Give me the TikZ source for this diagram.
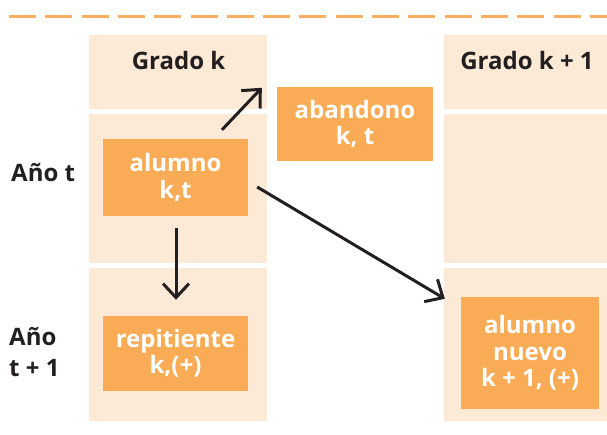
\documentclass[tikz,border=0pt]{standalone}
\usepackage{fontspec}
\setmainfont{Open Sans}
\usetikzlibrary{arrows.meta}
\definecolor{cellc}{HTML}{FDEAD6}
\definecolor{boxc}{HTML}{FAAB55}
\definecolor{dashc}{HTML}{F9AD5E}
\definecolor{ink}{HTML}{231F20}
\begin{document}
\begin{tikzpicture}[x=1pt,y=-1pt,
  cellbox/.style={fill=cellc, draw=none, anchor=north west, inner sep=0, minimum width=#1},
  cellbox/.default=178,
  obox/.style={fill=boxc, draw=none, inner sep=0, text=white, align=center,
    font=\fontsize{24}{26.5}\selectfont\bfseries},
  hdr/.style={inner sep=0, text=ink, font=\fontsize{24}{26}\selectfont\bfseries},
  lbl/.style={inner sep=0, text=ink, anchor=west, align=left,
    font=\fontsize{24}{31}\selectfont\bfseries},
  arr/.style={draw=ink, line width=3pt, -{Straight Barb[length=14pt,width=26pt]}},
  dashline/.style={draw=dashc, line width=2.8pt, dash pattern=on 27pt off 9.3pt}
]
\useasboundingbox (0,0) rectangle (607,435);
\draw[dashline] (9,16.7) -- (607,16.7);
% column cells
\node[cellbox, minimum height=74] (c1a) at (89,35) {};
\node[cellbox, minimum height=149] (c1b) at (89,114) {};
\node[cellbox, minimum height=153] (c1c) at (89,268) {};
\node[cellbox=163, minimum height=74] (c3a) at (444,35) {};
\node[cellbox=163, minimum height=149] (c3b) at (444,114) {};
\node[cellbox=163, minimum height=153] (c3c) at (444,268) {};
% headers and labels
\node[hdr] (gk) at (178.5,61) {Grado k};
\node[hdr] (gk1) at (527,61) {Grado k + 1};
\node[lbl] (anot) at (11,173) {Año t};
\node[lbl] (anot1) at (9,352) {Año\\t + 1};
% boxes
\node[obox, minimum width=145, minimum height=77] (alumno) at (175.5,177.5) {alumno\\k,t};
\node[obox, minimum width=156, minimum height=74] (abandono) at (355,124) {abandono\\k, t};
\node[obox, minimum width=145, minimum height=75] (repitiente) at (175.5,353.5) {repitiente\\k,(+)};
\node[obox, minimum width=138, minimum height=112] (nuevo) at (530,353) {alumno\\nuevo\\k + 1, (+)};
% arrows
\draw[arr] ([shift={(46.5,-9)}]alumno.north) -- ([shift={(-15,1)}]abandono.north west);
\draw[arr] ([shift={(9,9.5)}]alumno.east) -- ([shift={(-16,2)}]nuevo.north west);
\draw[arr] ([shift={(0.5,12)}]alumno.south) -- ([shift={(0.5,-16)}]repitiente.north);
\end{tikzpicture}
\end{document}
